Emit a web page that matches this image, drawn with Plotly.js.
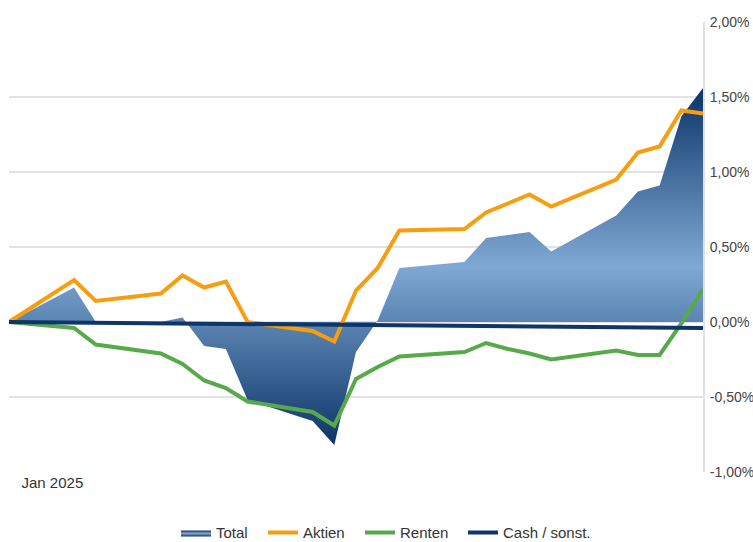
<!DOCTYPE html>
<html>
<head>
<meta charset="utf-8">
<script src="https://cdn.plot.ly/plotly-3.0.1.min.js"></script>
<style>
  html, body { margin: 0; padding: 0; background: #fff; }
  #chart { width: 753px; height: 542px; }
</style>
</head>
<body>
<div id="chart"></div>
<script>
// Weekly observation dates (only the vertices visible in the chart)
const dates = [
  "2025-01-02", "2025-01-23", "2025-01-30", "2025-02-20", "2025-02-27",
  "2025-03-06", "2025-03-13", "2025-03-20", "2025-04-10", "2025-04-17",
  "2025-04-24", "2025-05-01", "2025-05-08", "2025-05-29", "2025-06-05",
  "2025-06-12", "2025-06-19", "2025-06-26", "2025-07-17", "2025-07-24",
  "2025-07-31", "2025-08-07", "2025-08-14"
];

// Performance contributions in %
const total = [
  0.00, 0.23, 0.00, 0.00, 0.03,
  -0.16, -0.18, -0.52, -0.66, -0.82,
  -0.20, 0.01, 0.36, 0.40, 0.56,
  0.58, 0.60, 0.47, 0.71, 0.87,
  0.91, 1.37, 1.56
];
const aktien = [
  0.00, 0.28, 0.14, 0.19, 0.31,
  0.23, 0.27, 0.00, -0.06, -0.13,
  0.21, 0.36, 0.61, 0.62, 0.73,
  0.79, 0.85, 0.77, 0.95, 1.13,
  1.17, 1.41, 1.39
];
const renten = [
  0.00, -0.04, -0.15, -0.21, -0.28,
  -0.39, -0.44, -0.53, -0.60, -0.69,
  -0.38, -0.30, -0.23, -0.20, -0.14,
  -0.18, -0.21, -0.25, -0.19, -0.22,
  -0.22, -0.01, 0.22
];
const cash = [
  0.000, -0.004, -0.005, -0.009, -0.010,
  -0.011, -0.013, -0.014, -0.018, -0.019,
  -0.020, -0.021, -0.022, -0.026, -0.027,
  -0.029, -0.030, -0.031, -0.035, -0.036,
  -0.038, -0.039, -0.040
];

const seriesNames = ["Total", "Aktien", "Renten", "Cash / sonst."];
const yTickVals = [-1, -0.5, 0, 0.5, 1, 1.5, 2];
const yTickText = ["-1,00%", "-0,50%", "0,00%", "0,50%", "1,00%", "1,50%", "2,00%"];
const xTickVals = ["2025-01-16"];
const xTickText = ["Jan 2025"];

const dark = "#0c3567";
const light = "#7fa8d4";

const traces = [
  {
    x: dates, y: total, name: seriesNames[0], type: "scatter", mode: "lines",
    fill: "tozeroy",
    line: { width: 0, color: "#4f7db3" },
    fillgradient: {
      type: "vertical",
      start: Math.min(...total),
      stop: Math.max(...total),
      colorscale: [[0, dark], [0.5, light], [1, dark]]
    },
    legendwidth: 42,
    hoverinfo: "skip"
  },
  {
    x: dates, y: aktien, name: seriesNames[1], type: "scatter", mode: "lines",
    line: { color: "#f79d10", width: 4 }, cliponaxis: false, legendwidth: 52
  },
  {
    x: dates, y: renten, name: seriesNames[2], type: "scatter", mode: "lines",
    line: { color: "#58a94b", width: 4 }, cliponaxis: false, legendwidth: 58
  },
  {
    x: dates, y: cash, name: seriesNames[3], type: "scatter", mode: "lines",
    line: { color: "#0e3668", width: 4 }, cliponaxis: false, legendwidth: 92
  }
];

const layout = {
  width: 753, height: 542,
  margin: { l: 9, r: 50, t: 22, b: 70, autoexpand: false },
  paper_bgcolor: "#ffffff",
  plot_bgcolor: "#ffffff",
  font: { family: "Liberation Sans, Arial, sans-serif", size: 15, color: "#444" },
  showlegend: true,
  legend: {
    orientation: "h",
    xref: "container", yref: "paper",
    x: 176 / 753, xanchor: "left", y: -0.135, yanchor: "middle",
    font: { size: 15, color: "#333" }, traceorder: "normal"
  },
  xaxis: {
    type: "date",
    range: [dates[0], dates[dates.length - 1]],
    showgrid: false, zeroline: false, showline: false,
    tickvals: xTickVals, ticktext: xTickText,
    ticks: "", tickfont: { size: 15, color: "#333" }
  },
  yaxis: {
    side: "right",
    range: [-1, 2],
    tickvals: yTickVals, ticktext: yTickText,
    showgrid: true, gridcolor: "#e2e2e2", gridwidth: 2,
    zeroline: false,
    showline: true, linecolor: "#e2e2e2", linewidth: 2,
    ticks: "outside", ticklen: 2, tickcolor: "rgba(0,0,0,0)",
    tickfont: { size: 14, color: "#444" }
  }
};

Plotly.newPlot("chart", traces, layout, { displayModeBar: false, staticPlot: true });
</script>
</body>
</html>
